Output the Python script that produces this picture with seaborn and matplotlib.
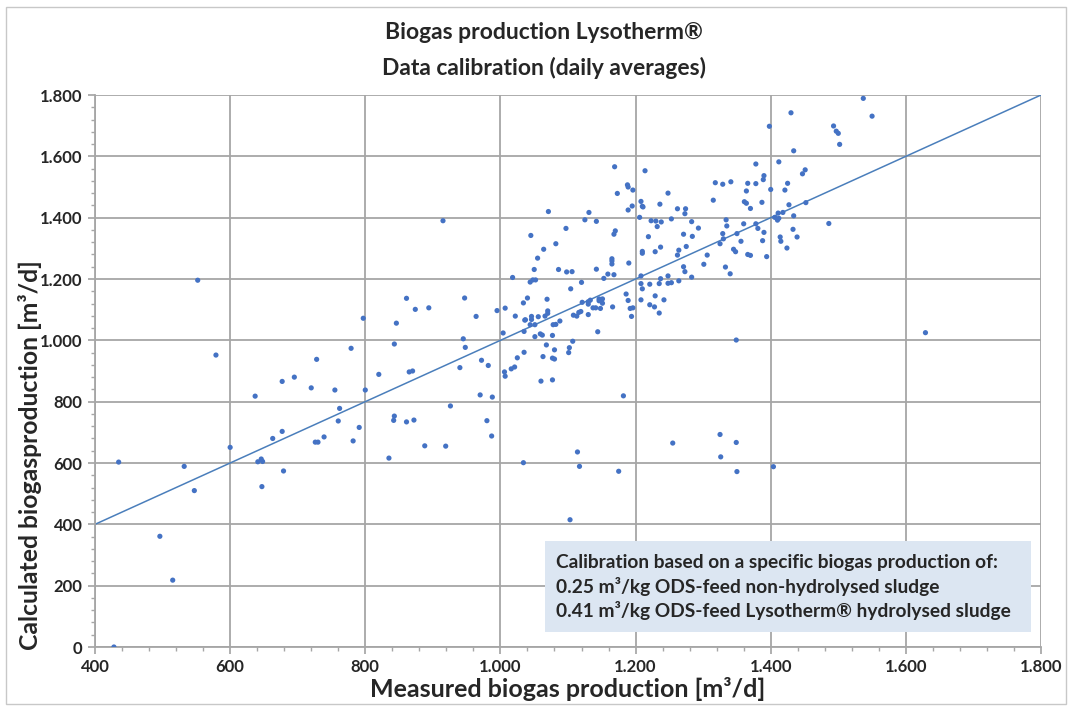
import numpy as np
import pandas as pd
import matplotlib
matplotlib.use("Agg")
import matplotlib.pyplot as plt
from matplotlib.ticker import MultipleLocator, FuncFormatter
from matplotlib.patches import Rectangle
import seaborn as sns

# measured / calculated daily biogas production [m3/d]
points = [
    (579, 952), (728, 938), (677, 866), (695, 880), (720, 845), (755, 838), (637, 818),
    (762, 778), (760, 737), (677, 703), (663, 680), (739, 685), (726, 668), (730, 668),
    (600, 651), (435, 603), (532, 589), (641, 604), (646, 613), (648, 605), (679, 574),
    (647, 523), (547, 510), (496, 361), (515, 218), (428, 0), (552, 1196),
    (947, 1138), (861, 1137), (874, 1101), (894, 1106), (797, 1072), (964, 1078),
    (846, 1056), (945, 1005), (843, 988), (948, 977), (779, 974), (972, 935), (982, 918),
    (940, 911), (865, 897), (870, 900), (820, 889), (800, 838), (970, 822), (926, 786),
    (843, 753), (842, 739), (861, 734), (872, 740), (980, 738), (791, 716), (782, 672),
    (888, 656), (919, 655), (835, 616), (915, 1390),
    (1034, 601), (1114, 636), (1117, 589), (1175, 573), (1103, 415), (1255, 665),
    (1349, 667), (1326, 620), (1350, 572), (1404, 588), (1325, 693), (1349, 1001),
    (1182, 819),
    (1186, 1151), (1189, 1130), (1192, 1104), (1196, 1106), (1194, 1078), (1208, 1132),
    (1229, 1145), (1242, 1132), (1221, 1116), (1228, 1109), (1235, 1089),
    (1004, 1024), (1035, 1029), (1044, 1051), (1051, 1051), (1036, 1066), (1088, 1063),
    (1078, 1051), (1082, 1052), (1051, 1012), (1059, 1021), (1062, 1017), (1077, 1016),
    (1144, 1028), (1107, 997), (1068, 985), (1080, 969), (1102, 976), (1101, 960),
    (1025, 943), (1035, 961), (1016, 907), (1021, 913), (1006, 897), (1007, 883),
    (1063, 947), (1077, 942), (1080, 939), (1060, 867), (1077, 871), (988, 815), (987, 688),
    (1169, 1566), (1188, 1507), (1189, 1500), (1173, 1479), (1189, 1425), (1071, 1420),
    (1131, 1417), (1125, 1393), (1142, 1388), (1097, 1365), (1170, 1357), (1168, 1346),
    (1045, 1342), (1082, 1315), (1064, 1297), (1055, 1268), (1165, 1266), (1165, 1259),
    (1165, 1249), (1190, 1252), (1050, 1231), (1086, 1231), (1098, 1223), (1106, 1224),
    (1142, 1232), (1168, 1214), (1159, 1216), (1153, 1202), (1018, 1205), (1044, 1190),
    (1048, 1197), (1052, 1197), (1120, 1189), (1104, 1168), (1040, 1138), (1034, 1122),
    (1069, 1134), (995, 1097), (1007, 1105), (1022, 1079), (1037, 1067), (1046, 1078),
    (1046, 1068), (1056, 1077), (1066, 1079), (1070, 1096), (1070, 1088), (1108, 1082),
    (1113, 1079), (1116, 1091), (1119, 1094), (1130, 1084), (1121, 1124), (1130, 1126),
    (1133, 1131), (1130, 1118), (1137, 1106), (1141, 1106), (1148, 1104), (1146, 1135),
    (1146, 1129), (1151, 1135), (1151, 1121), (1166, 1109),
    (1378, 1575), (1412, 1582), (1214, 1553), (1390, 1537), (1389, 1524), (1196, 1490),
    (1318, 1514), (1329, 1509), (1341, 1517), (1366, 1512), (1378, 1511), (1425, 1512),
    (1364, 1487), (1400, 1492), (1421, 1490), (1248, 1480), (1315, 1457), (1208, 1453),
    (1210, 1437), (1211, 1435), (1195, 1438), (1236, 1444), (1361, 1452), (1364, 1447),
    (1387, 1450), (1370, 1430), (1262, 1429), (1274, 1429), (1273, 1413), (1427, 1442),
    (1411, 1415), (1418, 1417), (1406, 1401), (1410, 1392), (1412, 1398), (1206, 1401),
    (1223, 1390), (1230, 1389), (1238, 1386), (1253, 1396), (1283, 1387), (1232, 1371),
    (1293, 1366), (1334, 1393), (1335, 1373), (1360, 1380), (1378, 1380), (1381, 1365),
    (1390, 1352), (1414, 1337), (1415, 1323), (1424, 1301), (1388, 1325), (1394, 1273),
    (1219, 1338), (1271, 1346), (1284, 1339), (1329, 1348), (1350, 1348), (1325, 1315),
    (1330, 1331), (1356, 1323), (1237, 1304), (1275, 1306), (1210, 1290), (1210, 1284),
    (1229, 1289), (1264, 1294), (1262, 1278), (1345, 1297), (1348, 1289), (1366, 1280),
    (1370, 1277), (1306, 1278), (1301, 1248), (1271, 1240), (1273, 1224), (1333, 1239),
    (1340, 1217), (1283, 1206), (1208, 1210), (1237, 1201), (1248, 1210), (1264, 1194),
    (1208, 1185), (1221, 1183), (1235, 1185), (1248, 1186), (1253, 1188), (1210, 1168),
    (1537, 1789), (1430, 1742), (1550, 1731), (1493, 1699), (1497, 1682), (1500, 1675),
    (1502, 1639), (1434, 1618), (1451, 1556), (1447, 1543), (1452, 1449), (1434, 1406),
    (1486, 1381), (1433, 1362), (1439, 1337), (1629, 1025), (1398, 1698),
]
measured = [p[0] for p in points]
calculated = [p[1] for p in points]

# calibration line (y = x)
calib_x = [400, 1800]
calib_y = [400, 1800]

df = pd.DataFrame({"measured": measured, "calculated": calculated})

sns.set_theme(style="white")
plt.rcParams["font.family"] = ["Lato", "DejaVu Sans"]
plt.rcParams["font.weight"] = "bold"

fig = plt.figure(figsize=(10.73, 7.11), dpi=100)
ax = fig.add_axes([95 / 1073, 64 / 711, 946 / 1073, 552 / 711])

fig.patches.append(Rectangle((6 / 1073, 7 / 711), 1060 / 1073, 697 / 711,
                             transform=fig.transFigure, fill=False,
                             edgecolor="#c8c8c8", linewidth=1))

sns.lineplot(x=calib_x, y=calib_y, ax=ax, color="#4a7ebb", linewidth=1.1, zorder=2)
sns.scatterplot(data=df, x="measured", y="calculated", ax=ax, color="#4472c4",
                s=14, edgecolor="none", zorder=3)

ax.set_xlim(400, 1800)
ax.set_ylim(0, 1800)
ax.xaxis.set_major_locator(MultipleLocator(200))
ax.yaxis.set_major_locator(MultipleLocator(200))
ax.xaxis.set_minor_locator(MultipleLocator(40))
ax.yaxis.set_minor_locator(MultipleLocator(40))
fmt = FuncFormatter(lambda v, _: f"{int(v):,}".replace(",", "."))
ax.xaxis.set_major_formatter(fmt)
ax.yaxis.set_major_formatter(fmt)

ax.grid(True, which="major", color="#a6a6a6", linewidth=1.3)
ax.set_axisbelow(True)
for side in ["top", "right"]:
    ax.spines[side].set_visible(False)
for side in ["left", "bottom"]:
    ax.spines[side].set_color("#a6a6a6")
    ax.spines[side].set_linewidth(1.3)

ax.tick_params(which="major", direction="out", length=5, color="#a6a6a6",
               labelsize=12, pad=4, bottom=True, left=True)
ax.tick_params(which="minor", direction="out", length=3, color="#a6a6a6",
               bottom=True, left=True)
for lbl in ax.get_xticklabels() + ax.get_yticklabels():
    lbl.set_fontweight("bold")

ax.set_xlabel("Measured biogas production [m³/d]", fontsize=18, fontweight="bold", labelpad=1)
ax.set_ylabel("Calculated biogasproduction [m³/d]", fontsize=17.8, fontweight="bold")
ax.yaxis.set_label_coords(-0.056, 0.348)

fig.text(0.507, 0.954, "Biogas production Lysotherm®", ha="center", va="center",
         fontsize=16.5, fontweight="bold")
fig.text(0.507, 0.904, "Data calibration (daily averages)", ha="center", va="center",
         fontsize=16.5, fontweight="bold")

box_text = ("Calibration based on a specific biogas production of:\n"
            "0.25 m³/kg ODS-feed non-hydrolysed sludge\n"
            "0.41 m³/kg ODS-feed Lysotherm® hydrolysed sludge")
ax.add_patch(Rectangle((545 / 1073, 79 / 711), 486 / 1073, 91 / 711,
                       transform=fig.transFigure, facecolor="#dce6f2",
                       edgecolor="none", zorder=4))
fig.text(556 / 1073, 124 / 711, box_text, ha="left", va="center", fontsize=13.8,
         fontweight="bold", linespacing=1.35, zorder=5)

fig.savefig("out.png", dpi=100)
